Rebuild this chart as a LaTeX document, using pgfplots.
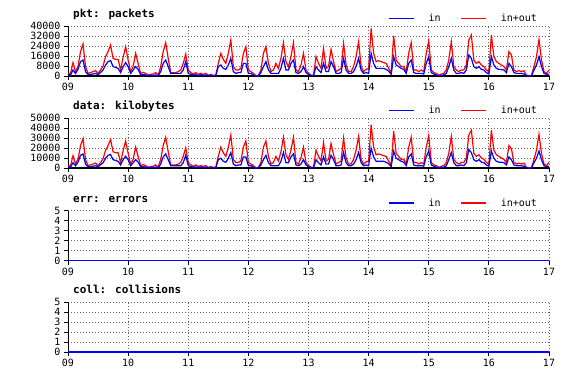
\documentclass[border=0pt]{standalone}
\usepackage{fontspec}
\setmainfont{DejaVu Sans Mono}
\usepackage{pgfplots}
\usepackage{pgfplotstable}
\pgfplotsset{compat=1.18}

% packets: in+out, in (hourly, 09 00h .. 17 00h)
\pgfplotstableread[row sep=\\]{
io in\\
2000 1300\\ 2000 800\\ 10700 4800\\ 3500 2000\\ 7500 5300\\ 19500 11500\\ 25600 12800\\ 7500 3500\\
2100 1000\\ 2700 1300\\ 3500 1600\\ 4300 2100\\ 2100 1000\\ 4800 2900\\ 8000 4800\\ 15500 8800\\
19500 11500\\ 24800 12300\\ 14100 7500\\ 13300 6900\\ 13300 6100\\ 4800 2700\\ 15000 7500\\ 23500 10700\\
12800 7500\\ 3500 2100\\ 7500 4800\\ 18100 7500\\ 10100 5300\\ 2100 1000\\ 2900 1300\\ 2100 800\\
800 300\\ 1300 500\\ 1600 500\\ 2700 800\\ 500 300\\ 7500 3500\\ 19500 10100\\ 26700 12800\\
14100 7500\\ 2700 2100\\ 2700 2100\\ 2700 2100\\ 3500 2100\\ 4800 2100\\ 10100 4800\\ 17600 11500\\
4800 2100\\ 2700 1300\\ 1600 800\\ 2700 1000\\ 1300 500\\ 2100 1000\\ 1300 500\\ 2100 800\\
500 300\\ 1300 500\\ 500 300\\ 800 300\\ 10100 7500\\ 18100 8800\\ 13300 6100\\ 10100 5300\\
18100 8800\\ 28800 14000\\ 7500 3500\\ 4800 2100\\ 4800 2700\\ 6100 2700\\ 18100 10100\\ 23500 10100\\
4800 2100\\ 3500 2100\\ 2100 800\\ 300 0\\ 500 300\\ 4800 2700\\ 18100 7500\\ 23500 11500\\
10100 4800\\ 3500 2100\\ 4800 2100\\ 10100 2100\\ 6100 2100\\ 14100 6100\\ 26700 14100\\ 11500 4800\\
7500 4800\\ 15500 10100\\ 26700 12800\\ 4800 2700\\ 3500 2100\\ 8800 3500\\ 18100 7500\\ 4800 2700\\
2100 1300\\ 800 300\\ 500 300\\ 15500 7500\\ 10100 4800\\ 6100 2700\\ 22100 10100\\ 6100 3500\\
7500 3500\\ 21300 11500\\ 11500 7500\\ 3500 2100\\ 4800 2100\\ 6100 2700\\ 26100 14100\\ 8800 4800\\
3500 2100\\ 3500 2100\\ 7500 3500\\ 15500 7500\\ 27500 14100\\ 7500 4800\\ 3500 2100\\ 5300 2700\\
6100 2100\\ 38100 18100\\ 18100 10100\\ 11500 6100\\ 12300 6100\\ 11500 6100\\ 10700 6100\\ 10100 5300\\
6000 3800\\ 2700 1300\\ 32000 15500\\ 12800 8800\\ 10100 7500\\ 7500 6100\\ 7500 5300\\ 3500 2100\\
18100 10100\\ 26700 12800\\ 4800 2700\\ 4800 2100\\ 3500 2100\\ 4800 2100\\ 3500 1600\\ 18100 10100\\
28300 15500\\ 4800 2700\\ 2700 1600\\ 2100 800\\ 500 300\\ 1600 500\\ 2100 800\\ 4800 2100\\
12800 7500\\ 27500 14100\\ 7500 4800\\ 4800 2100\\ 3500 2100\\ 4800 2700\\ 4800 2100\\ 8800 4800\\
28800 16800\\ 32800 14100\\ 12800 7500\\ 10100 6100\\ 11500 7500\\ 8800 5300\\ 7500 4800\\ 4800 2700\\
3500 1600\\ 32800 15500\\ 15500 8800\\ 11500 6100\\ 10100 5300\\ 8800 5300\\ 7500 4800\\ 4800 2700\\
19500 10100\\ 16800 7500\\ 4800 2700\\ 3500 2100\\ 4300 2100\\ 3500 2100\\ 4300 1600\\ 500 300\\
300 0\\ 300 0\\ 7500 4800\\ 15500 8800\\ 29300 15500\\ 12800 7500\\ 3500 2100\\ 2100 1300\\
4800 1600\\
}\pkt

% kilobytes: in+out, in
\pgfplotstableread[row sep=\\]{
io in\\
2300 1400\\ 2300 900\\ 12300 5300\\ 4000 2200\\ 8600 5800\\ 22400 12700\\ 29400 14100\\ 8600 3900\\
2400 1100\\ 3100 1400\\ 4000 1800\\ 4900 2300\\ 2400 1100\\ 5500 3200\\ 9200 5300\\ 17800 9700\\
22400 12700\\ 28500 13500\\ 16200 8300\\ 15300 7600\\ 15300 6700\\ 5500 3000\\ 17300 8300\\ 27000 11800\\
14700 8300\\ 4000 2300\\ 8600 5300\\ 20800 8300\\ 11600 5800\\ 2400 1100\\ 3300 1400\\ 2400 900\\
900 300\\ 1500 600\\ 1800 600\\ 3100 900\\ 600 300\\ 8600 3900\\ 22400 11100\\ 30700 14100\\
16200 8300\\ 3100 2300\\ 3100 2300\\ 3100 2300\\ 4000 2300\\ 5500 2300\\ 11600 5300\\ 20200 12700\\
5500 2300\\ 3100 1400\\ 1800 900\\ 3100 1100\\ 1500 600\\ 2400 1100\\ 1500 600\\ 2400 900\\
600 300\\ 1500 600\\ 600 300\\ 900 300\\ 11600 8300\\ 20800 9700\\ 15300 6700\\ 11600 5800\\
20800 9700\\ 33100 15400\\ 8600 3900\\ 5500 2300\\ 5500 3000\\ 7000 3000\\ 20800 11100\\ 27000 11100\\
5500 2300\\ 4000 2300\\ 2400 900\\ 300 0\\ 600 300\\ 5500 3000\\ 20800 8300\\ 27000 12700\\
11600 5300\\ 4000 2300\\ 5500 2300\\ 11600 2300\\ 7000 2300\\ 16200 6700\\ 30700 15500\\ 13200 5300\\
8600 5300\\ 17800 11100\\ 30700 14100\\ 5500 3000\\ 4000 2300\\ 10100 3900\\ 20800 8300\\ 5500 3000\\
2400 1400\\ 900 300\\ 600 300\\ 17800 8300\\ 11600 5300\\ 7000 3000\\ 25400 11100\\ 7000 3900\\
8600 3900\\ 24500 12700\\ 13200 8300\\ 4000 2300\\ 5500 2300\\ 7000 3000\\ 30000 15500\\ 10100 5300\\
4000 2300\\ 4000 2300\\ 8600 3900\\ 17800 8300\\ 31600 15500\\ 8600 5300\\ 4000 2300\\ 6100 3000\\
7000 2300\\ 43300 19900\\ 20800 11100\\ 13200 6700\\ 14100 6700\\ 13200 6700\\ 12300 6700\\ 11600 5800\\
6900 4200\\ 3100 1400\\ 36800 17000\\ 14700 9700\\ 11600 8300\\ 8600 6700\\ 8600 5800\\ 4000 2300\\
20800 11100\\ 30700 14100\\ 5500 3000\\ 5500 2300\\ 4000 2300\\ 5500 2300\\ 4000 1800\\ 20800 11100\\
32500 17000\\ 5500 3000\\ 3100 1800\\ 2400 900\\ 600 300\\ 1800 600\\ 2400 900\\ 5500 2300\\
14700 8300\\ 31600 15500\\ 8600 5300\\ 5500 2300\\ 4000 2300\\ 5500 3000\\ 5500 2300\\ 10100 5300\\
33100 18500\\ 37700 15500\\ 14700 8300\\ 11600 6700\\ 13200 8300\\ 10100 5800\\ 8600 5300\\ 5500 3000\\
4000 1800\\ 37700 17000\\ 17800 9700\\ 13200 6700\\ 11600 5800\\ 10100 5800\\ 8600 5300\\ 5500 3000\\
22400 11100\\ 19300 8300\\ 5500 3000\\ 4000 2300\\ 4900 2300\\ 4000 2300\\ 4900 1800\\ 600 300\\
300 0\\ 300 0\\ 8600 5300\\ 17800 9700\\ 33700 17000\\ 14700 8300\\ 4000 2300\\ 2400 1400\\
5500 1800\\
}\kb

% errors and collisions: all zero
\pgfplotstableread[row sep=\\]{
h io in\\
0 0 0\\ 192 0 0\\
}\zero

\newcommand{\tickfont}{\fontsize{10bp}{10bp}\selectfont}
\newcommand{\titlefont}{\bfseries\fontsize{11bp}{11bp}\selectfont}

\pgfplotsset{
  rrd/.style={
    scale only axis, width=481bp, height=50bp,
    xmin=0, xmax=192,
    xtick={0,24,...,192},
    xticklabels={09,10,11,12,13,14,15,16,17},
    axis lines=left,
    axis line style={-, black},
    x axis line style={line width=1.5bp},
    y axis line style={line width=0.8bp},
    tick align=outside,
    major tick length=4bp,
    tick style={black, line width=0.8bp},
    grid=major,
    major grid style={black!60, line width=0.8bp, dash pattern=on 1bp off 2bp},
    ticklabel style={font=\tickfont},
    /pgf/number format/assume math mode=true,
    /pgf/number format/fixed,
    /pgf/number format/set thousands separator={},
    scaled y ticks=false,
    clip=false,
    legend columns=2,
    legend image code/.code={\draw[#1] (0bp,0bp) -- (25bp,0bp);},
    legend style={draw=none, fill=none, at={(1,1)}, anchor=south east,
      xshift=-12bp, yshift=3bp, inner sep=0pt, outer sep=0pt,
      font=\tickfont, nodes={inner sep=0pt},
      /tikz/every odd column/.append style={column sep=14bp},
      /tikz/every even column/.append style={column sep=20bp}},
  },
  inl/.style={blue, line width=1.2bp, sharp plot, forget plot},
  iol/.style={red, line width=1.2bp, sharp plot, forget plot},
}

\begin{document}
\begin{tikzpicture}
\path[use as bounding box] (-68bp,-303bp) rectangle (496bp,76bp);

\begin{axis}[rrd, at={(0bp,0bp)}, anchor=south west,
  ymin=0, ymax=40000, ytick={0,8000,16000,24000,32000,40000}]
  \addlegendimage{blue, line width=1.2bp}
  \addlegendimage{red, line width=1.2bp}
  \addplot[iol] table[x expr=\coordindex, y=io] {\pkt};
  \addplot[inl] table[x expr=\coordindex, y=in] {\pkt};
  \legend{in, in+out}
  \node[anchor=base west, font=\titlefont, inner sep=0pt, xshift=5bp, yshift=8.3bp] at (rel axis cs:0,1) {pkt: packets};
\end{axis}

\begin{axis}[rrd, at={(0bp,-92bp)}, anchor=south west,
  ymin=0, ymax=50000, ytick={0,10000,20000,30000,40000,50000}]
  \addlegendimage{blue, line width=1.2bp}
  \addlegendimage{red, line width=1.2bp}
  \addplot[iol] table[x expr=\coordindex, y=io] {\kb};
  \addplot[inl] table[x expr=\coordindex, y=in] {\kb};
  \legend{in, in+out}
  \node[anchor=base west, font=\titlefont, inner sep=0pt, xshift=5bp, yshift=8.3bp] at (rel axis cs:0,1) {data: kilobytes};
\end{axis}

\begin{axis}[rrd, at={(0bp,-184.5bp)}, anchor=south west,
  ymin=0, ymax=5, ytick={0,1,2,3,4,5}]
  \addlegendimage{blue, line width=1.2bp}
  \addlegendimage{red, line width=1.2bp}
  \addplot[iol, line width=1.5bp] table[x=h, y=io] {\zero};
  \addplot[inl, line width=1.5bp] table[x=h, y=in] {\zero};
  \legend{in, in+out}
  \node[anchor=base west, font=\titlefont, inner sep=0pt, xshift=5bp, yshift=8.3bp] at (rel axis cs:0,1) {err: errors};
\end{axis}

\begin{axis}[rrd, at={(0bp,-276bp)}, anchor=south west,
  ymin=0, ymax=5, ytick={0,1,2,3,4,5}]
  \addplot[iol, line width=1.5bp] table[x=h, y=io] {\zero};
  \addplot[inl, line width=1.5bp] table[x=h, y=in] {\zero};
  \node[anchor=base west, font=\titlefont, inner sep=0pt, xshift=5bp, yshift=8.3bp] at (rel axis cs:0,1) {coll: collisions};
\end{axis}
\end{tikzpicture}
\end{document}
